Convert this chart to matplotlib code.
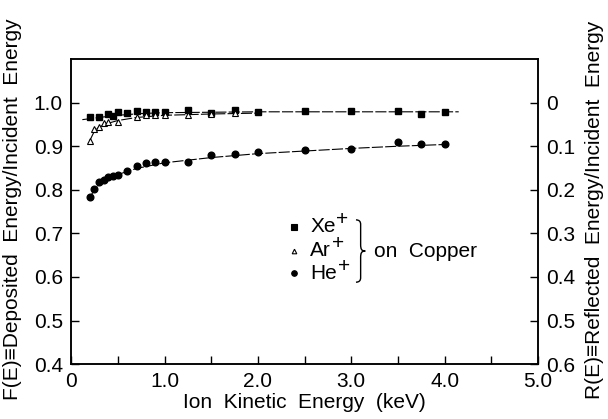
import numpy as np
import matplotlib
matplotlib.use("Agg")
import matplotlib.pyplot as plt
from matplotlib.path import Path
from matplotlib.patches import PathPatch

plt.rcParams["font.family"] = ["Liberation Sans", "DejaVu Sans"]

# measured points: energy (keV) vs. fraction of energy deposited
xe_energy = [0.2, 0.3, 0.4, 0.45, 0.5, 0.6, 0.7, 0.8, 0.9, 1.0,
             1.25, 1.5, 1.75, 2.0, 2.5, 3.0, 3.5, 3.75, 4.0]
xe_frac = [0.967, 0.966, 0.975, 0.969, 0.978, 0.976, 0.981, 0.979, 0.978, 0.978,
           0.984, 0.976, 0.982, 0.978, 0.980, 0.980, 0.981, 0.975, 0.978]

ar_energy = [0.2, 0.25, 0.3, 0.35, 0.4, 0.5, 0.7, 0.8, 0.9, 1.0, 1.25, 1.5, 1.75]
ar_frac = [0.913, 0.940, 0.944, 0.953, 0.955, 0.955, 0.967, 0.972, 0.972, 0.972,
           0.972, 0.975, 0.976]

he_energy = [0.2, 0.25, 0.3, 0.35, 0.4, 0.45, 0.5, 0.6, 0.7, 0.8, 0.9, 1.0,
             1.25, 1.5, 1.75, 2.0, 2.5, 3.0, 3.5, 3.75, 4.0]
he_frac = [0.783, 0.802, 0.819, 0.823, 0.829, 0.831, 0.834, 0.844, 0.855, 0.861,
           0.864, 0.864, 0.863, 0.880, 0.883, 0.887, 0.892, 0.894, 0.910, 0.905, 0.904]

# hand-drawn trend curves through each set
xe_fit_e = [0.12, 0.3, 0.5, 0.75, 1.0, 1.5, 2.0, 3.0, 4.15]
xe_fit_f = [0.961, 0.966, 0.971, 0.975, 0.977, 0.978, 0.979, 0.979, 0.979]
ar_fit_e = [0.2, 0.25, 0.3, 0.4, 0.5, 0.7, 1.0, 1.5, 2.0]
ar_fit_f = [0.913, 0.935, 0.944, 0.953, 0.959, 0.966, 0.971, 0.974, 0.976]
he_fit_e = [0.2, 0.25, 0.3, 0.4, 0.5, 0.7, 1.0, 1.5, 2.0, 2.5, 3.0, 3.5, 4.0]
he_fit_f = [0.783, 0.800, 0.813, 0.826, 0.835, 0.849, 0.862, 0.874, 0.883,
            0.889, 0.895, 0.900, 0.904]

FS = 15

fig = plt.figure(figsize=(6.08, 4.19), dpi=100)
ax = fig.add_axes([0.117, 0.131, 0.768, 0.728])

for e, f in [(xe_fit_e, xe_fit_f), (ar_fit_e, ar_fit_f), (he_fit_e, he_fit_f)]:
    ax.plot(e, f, color="black", lw=0.8, dashes=(10, 2))

ax.plot(xe_energy, xe_frac, "s", color="black", ms=4.6, ls="none")
ax.plot(ar_energy, ar_frac, "^", mfc="white", mec="black", mew=0.8, ms=3.8, ls="none")
ax.plot(he_energy, he_frac, "o", color="black", ms=4.8, ls="none")

ax.set_xlim(0, 5.0)
ax.set_ylim(0.4, 1.1)
ax.set_xticks([0, 1, 2, 3, 4, 5])
ax.set_xticklabels(["0", "1.0", "2.0", "3.0", "4.0", "5.0"])
ax.set_xticks([0.5, 1.5, 2.5, 3.5, 4.5], minor=True)
ax.set_yticks([0.4, 0.5, 0.6, 0.7, 0.8, 0.9, 1.0])
ax.set_yticklabels(["0.4", "0.5", "0.6", "0.7", "0.8", "0.9", "1.0"])
ax.tick_params(which="both", direction="in", length=6, width=1, labelsize=FS)
ax.tick_params(axis="x", pad=6)
ax.tick_params(axis="y", pad=6)

ax2 = ax.twinx()
ax2.set_ylim(0.6, -0.1)
ax2.set_yticks([0, 0.1, 0.2, 0.3, 0.4, 0.5, 0.6])
ax2.set_yticklabels(["0", "0.1", "0.2", "0.3", "0.4", "0.5", "0.6"])
ax2.tick_params(direction="in", length=6, width=1, labelsize=FS, pad=6)

for a in (ax, ax2):
    for s in a.spines.values():
        s.set_linewidth(1.1)

ax.set_xlabel("Ion  Kinetic  Energy  (keV)", fontsize=FS, labelpad=1)
fig.text(0.02, 0.5, "F(E)\u2261Deposited  Energy/Incident  Energy", rotation=90,
         fontsize=FS, ha="center", va="center")
fig.text(0.978, 0.5, "R(E)\u2261Reflected  Energy/Incident  Energy", rotation=90,
         fontsize=FS, ha="center", va="center")

# key
key_e = 2.39
key_rows = [(0.715, "s", "Xe", "black"), (0.660, "^", "Ar", "white"), (0.609, "o", "He", "black")]
for y, m, name, face in key_rows:
    ax.plot([key_e], [y], m, mfc=face, mec="black", ms=4.0 if m != "^" else 3.3, mew=0.8)
    t = ax.text(key_e + 0.17, y, name, fontsize=FS, va="center")
    ax.annotate("+", xy=(1, 0.5), xycoords=t, xytext=(0.5, 5), textcoords="offset points",
                fontsize=15, va="center", ha="left")

# curly brace grouping the three ions
bx, y0, y1 = 3.10, 0.588, 0.731
ym = 0.5 * (y0 + y1)
w = 0.05
verts = [(bx - w, y1), (bx, y1), (bx, y1 - 0.01), (bx, ym + 0.015),
         (bx, ym + 0.004), (bx + w * 0.2, ym), (bx + w, ym),
         (bx + w * 0.2, ym), (bx, ym - 0.004), (bx, ym - 0.015),
         (bx, y0 + 0.01), (bx, y0), (bx - w, y0)]
codes = [Path.MOVETO, Path.CURVE3, Path.CURVE3, Path.LINETO,
         Path.CURVE4, Path.CURVE4, Path.CURVE4,
         Path.CURVE4, Path.CURVE4, Path.CURVE4,
         Path.LINETO, Path.CURVE3, Path.CURVE3]
ax.add_patch(PathPatch(Path(verts, codes), fill=False, lw=1.0, color="black"))
ax.text(bx + 0.14, ym, "on  Copper", fontsize=FS, va="center")

fig.savefig("out.png", dpi=100)
